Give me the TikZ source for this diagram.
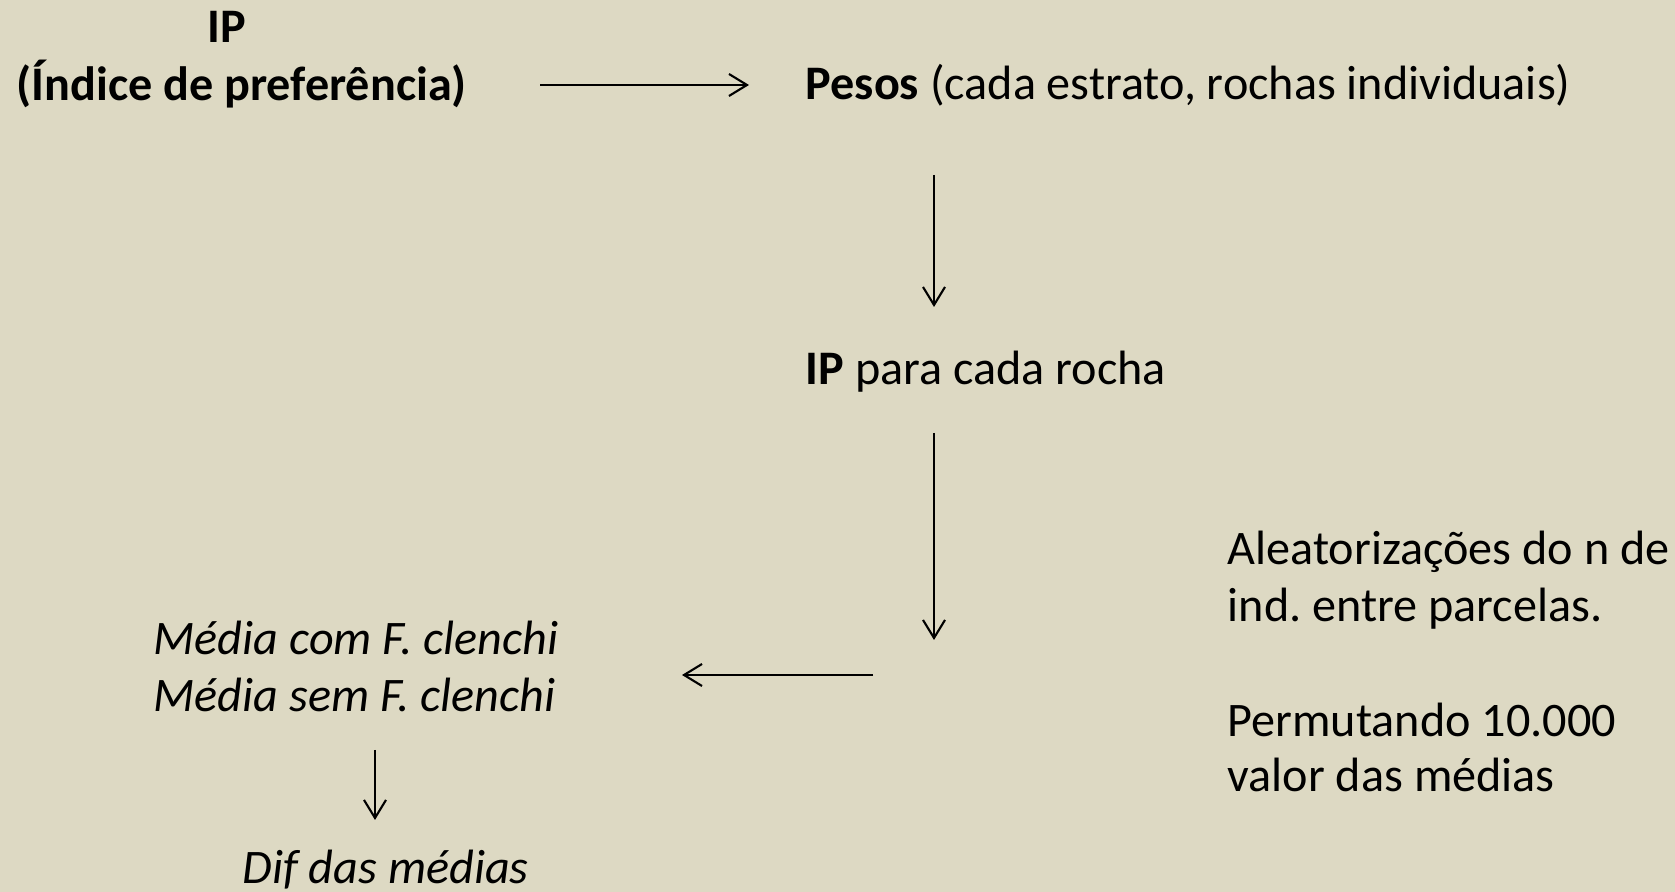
\documentclass[tikz,border=0pt]{standalone}
\usepackage{fontspec}
\setmainfont{Carlito}
\usetikzlibrary{arrows.meta,positioning}
\definecolor{slidebg}{HTML}{DDD9C3}
\frenchspacing

\begin{document}
\begin{tikzpicture}[x=0.01cm, y=-0.01cm,
    every node/.style={font=\fontsize{13.7}{16.5}\selectfont, inner sep=0pt},
    flow/.style={-{Straight Barb[length=1.8mm, width=2.2mm]}, line width=0.6pt}]
    % Background
    \fill[slidebg] (0,0) rectangle (1675,892);
    % Title
    \node[anchor=base] (ip) at (227,43) {\textbf{IP}};
    \node[anchor=base west] (indice) at (16,101) {\textbf{(Índice de preferência)}};
    % Main column
    \node[anchor=base west] (pesos) at (805,100) {\textbf{Pesos} (cada estrato, rochas individuais)};
    \node[anchor=base west] (rocha) at (805,385) {\textbf{IP} para cada rocha};
    % Means
    \node[anchor=base west] (comfc) at (153,655) {\itshape Média com F. clenchi};
    \node[anchor=base west] (semfc) at (153,712) {\itshape Média sem F. clenchi};
    \node[anchor=base west] (dif) at (242,884) {\itshape Dif das médias};
    % Permutation note
    \node[anchor=base west] (aleat1) at (1227,565) {Aleatorizações do n de};
    \node[anchor=base west] (aleat2) at (1227,622) {ind. entre parcelas.};
    \node[anchor=base west] (perm1) at (1227,737) {Permutando 10.000};
    \node[anchor=base west] (perm2) at (1227,792) {valor das médias};
    % Arrow ends
    \coordinate (a1) at (540,85);  \coordinate (b1) at (749,85);
    \coordinate (a2) at (934,175); \coordinate (b2) at (934,307);
    \coordinate (a3) at (934,433); \coordinate (b3) at (934,640);
    \coordinate (a4) at (873,675); \coordinate (b4) at (682,675);
    \coordinate (a5) at (375,750); \coordinate (b5) at (375,820);
    % Arrows
    \draw[flow] (a1) -- (b1);
    \draw[flow] (a2) -- (b2);
    \draw[flow] (a3) -- (b3);
    \draw[flow] (a4) -- (b4);
    \draw[flow] (a5) -- (b5);
\end{tikzpicture}
\end{document}
